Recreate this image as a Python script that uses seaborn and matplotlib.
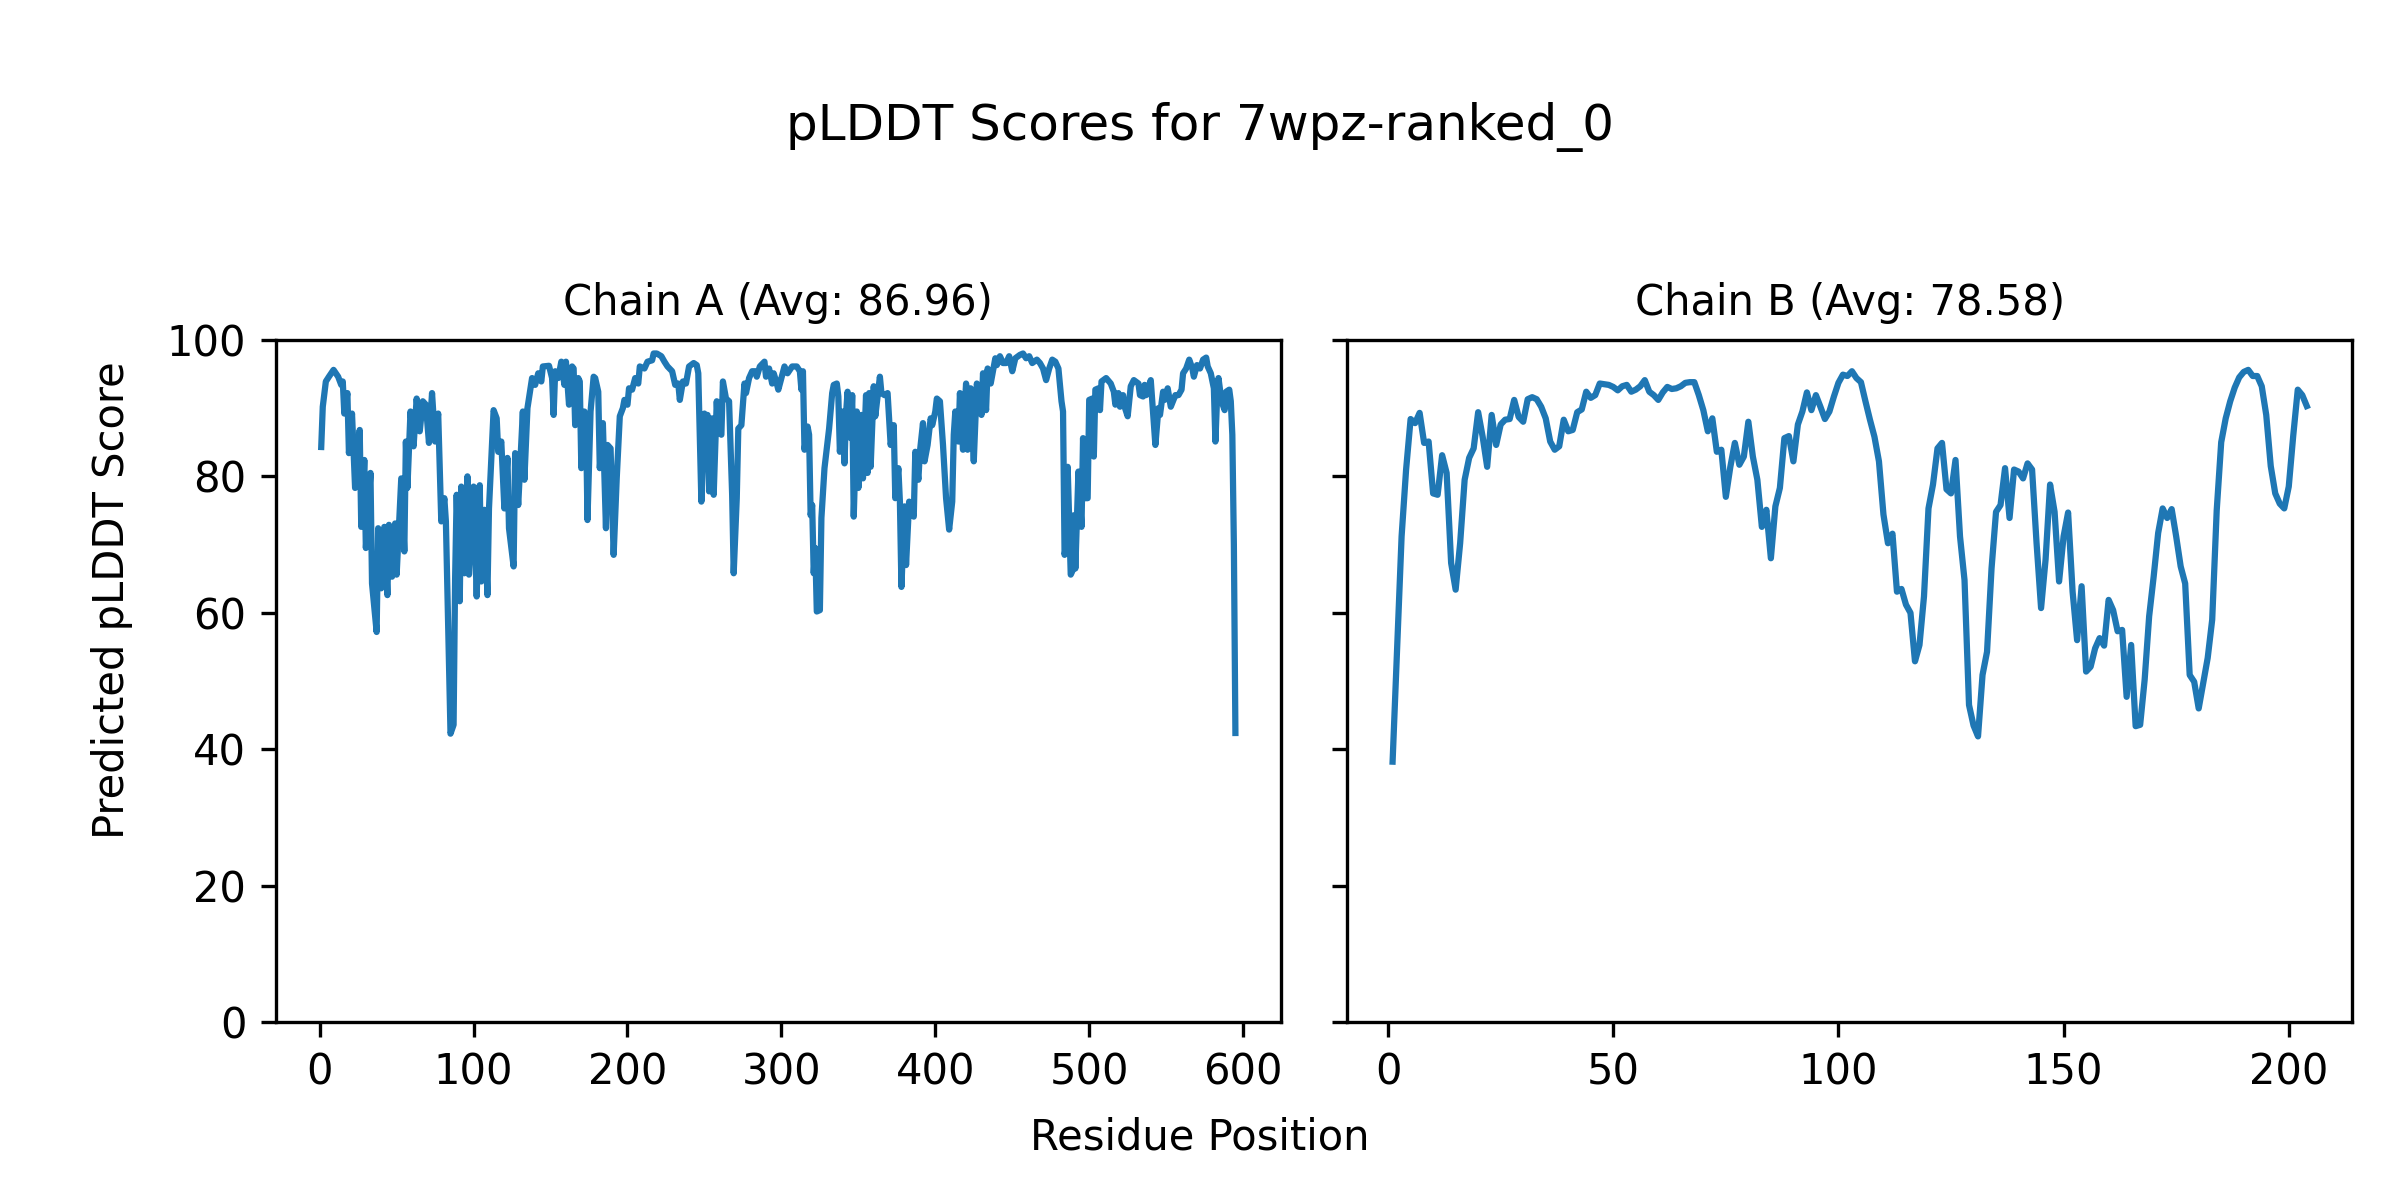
import matplotlib
matplotlib.use("Agg")
import matplotlib.pyplot as plt
import pandas as pd
import seaborn as sns

# pLDDT values (residue, score)
chain_a_pos = [1, 2, 4, 6, 9, 12, 14, 15, 16, 18, 19, 21, 23, 26, 27, 29, 30, 33, 34, 37,
               38, 40, 42, 44, 45, 47, 49, 50, 53, 55, 56, 57, 59, 61, 63, 65, 67, 69, 71, 73,
               75, 77, 79, 81, 82, 85, 87, 88, 89, 91, 92, 94, 96, 97, 100, 102, 104, 105, 107, 109,
               110, 113, 115, 116, 118, 120, 122, 123, 126, 127, 129, 132, 133, 135, 138, 140, 142, 144, 145, 149,
               151, 152, 153, 155, 157, 159, 160, 162, 164, 165, 166, 168, 169, 170, 172, 173, 174, 176, 178, 179,
               181, 182, 184, 186, 187, 189, 191, 193, 195, 197, 198, 200, 201, 203, 205, 207, 208, 211, 213, 216,
               217, 219, 222, 224, 226, 229, 231, 233, 234, 236, 238, 240, 243, 245, 246, 248, 250, 251, 252, 253,
               255, 256, 258, 259, 261, 262, 264, 266, 268, 269, 271, 272, 274, 276, 277, 279, 281, 283, 284, 286,
               289, 290, 292, 294, 295, 297, 298, 300, 302, 304, 307, 310, 312, 313, 314, 315, 317, 318, 319, 320,
               321, 322, 323, 325, 326, 328, 330, 331, 333, 334, 336, 337, 338, 340, 341, 342, 343, 345, 346, 347,
               349, 350, 352, 353, 355, 356, 357, 358, 360, 361, 364, 365, 367, 369, 371, 373, 374, 376, 377, 378,
               380, 381, 383, 384, 386, 387, 389, 390, 392, 393, 395, 397, 398, 400, 401, 403, 405, 407, 409, 411,
               412, 413, 415, 416, 418, 419, 420, 421, 423, 424, 425, 427, 429, 430, 431, 433, 434, 436, 438, 439,
               440, 442, 444, 446, 448, 450, 452, 455, 457, 459, 461, 463, 466, 468, 470, 472, 474, 476, 478, 480,
               482, 483, 484, 485, 486, 488, 489, 490, 491, 493, 495, 496, 497, 499, 500, 502, 503, 504, 506, 507,
               508, 511, 514, 516, 517, 519, 520, 522, 523, 525, 527, 529, 532, 533, 535, 536, 537, 540, 541, 543,
               545, 546, 548, 549, 551, 553, 556, 558, 560, 561, 563, 565, 567, 568, 570, 572, 574, 576, 577, 579,
               581, 582, 583, 584, 586, 588, 589, 591, 592, 593, 594, 595]
chain_a_score = [84.3, 90.2, 93.9, 94.6, 95.6, 94.6, 93.4, 93.9, 89.2, 92.2, 83.4, 89.2, 78.3, 86.8, 72.6, 82.4, 69.5, 80.5, 64.3, 57.2,
                 72.4, 63.6, 72.6, 62.6, 72.9, 65.3, 73.1, 65.6, 79.7, 69.0, 85.1, 78.3, 89.5, 84.4, 91.4, 86.6, 91.0, 90.5, 84.9, 92.2,
                 85.1, 89.2, 73.4, 76.8, 73.4, 42.3, 43.6, 65.1, 77.3, 61.7, 78.5, 65.8, 80.0, 65.6, 78.5, 62.4, 78.7, 64.6, 75.1, 62.6,
                 75.3, 89.7, 88.5, 83.6, 85.1, 75.3, 82.7, 72.4, 66.8, 83.4, 75.8, 89.5, 79.5, 90.0, 94.4, 93.4, 95.1, 93.9, 96.1, 96.2,
                 94.4, 89.0, 95.4, 94.4, 96.8, 93.4, 96.8, 90.5, 96.1, 95.8, 87.5, 94.4, 93.9, 81.2, 89.5, 88.8, 73.6, 89.5, 94.6, 94.4,
                 92.4, 81.2, 87.8, 72.4, 84.6, 84.1, 68.5, 79.7, 88.8, 90.0, 91.2, 90.5, 92.9, 92.7, 94.4, 93.6, 96.1, 95.8, 96.8, 97.0,
                 98.0, 98.0, 97.6, 96.8, 96.1, 95.4, 93.4, 93.6, 91.2, 93.9, 93.6, 96.1, 96.6, 96.3, 95.1, 76.3, 89.2, 81.2, 89.0, 77.8,
                 88.5, 77.3, 91.0, 86.6, 86.1, 93.9, 91.4, 91.0, 77.3, 65.8, 76.8, 87.0, 87.5, 93.6, 92.2, 94.4, 95.4, 95.4, 94.6, 96.1,
                 96.8, 94.6, 95.8, 93.6, 95.1, 93.6, 92.7, 94.4, 96.1, 95.1, 96.1, 96.1, 95.4, 92.7, 95.4, 83.9, 87.3, 86.1, 74.3, 75.8,
                 65.8, 69.5, 60.2, 60.4, 73.9, 81.2, 85.1, 87.0, 92.2, 93.4, 93.6, 91.7, 83.6, 89.5, 81.9, 89.2, 92.4, 85.6, 91.9, 74.1,
                 89.5, 78.3, 89.0, 79.7, 91.9, 80.5, 92.2, 81.4, 93.2, 88.8, 94.6, 92.2, 91.9, 92.2, 84.6, 87.5, 76.8, 81.2, 76.3, 63.8,
                 75.6, 67.0, 76.3, 75.8, 74.1, 83.6, 79.5, 83.6, 87.8, 82.2, 84.6, 88.5, 87.5, 89.5, 91.4, 91.0, 84.6, 76.8, 72.2, 76.3,
                 86.1, 89.5, 85.1, 92.2, 83.9, 89.7, 93.6, 83.9, 92.9, 86.6, 82.2, 93.6, 91.2, 89.0, 95.1, 89.7, 95.8, 93.6, 96.1, 97.3,
                 96.3, 97.6, 96.6, 96.6, 97.6, 95.4, 97.3, 97.8, 98.0, 97.3, 97.6, 96.6, 97.1, 96.6, 95.8, 94.1, 95.8, 97.1, 96.8, 95.8,
                 91.0, 89.5, 68.5, 70.0, 81.4, 65.6, 66.1, 74.3, 66.5, 80.7, 72.6, 85.6, 76.8, 76.8, 91.2, 91.4, 82.9, 92.7, 92.9, 89.7,
                 93.9, 94.4, 93.6, 92.4, 90.5, 92.2, 90.2, 91.9, 90.2, 88.8, 93.2, 94.1, 93.6, 91.9, 91.7, 93.4, 91.9, 94.1, 91.0, 84.6,
                 90.0, 89.0, 92.4, 91.2, 92.9, 90.2, 91.9, 91.9, 92.7, 95.1, 95.8, 97.1, 95.8, 94.6, 96.3, 95.8, 97.1, 97.4, 96.1, 95.1,
                 92.9, 85.1, 91.0, 94.4, 91.0, 89.7, 92.4, 92.7, 91.0, 86.1, 70.0, 42.4]

chain_b_pos = list(range(1, 205))
chain_b_score = [38.2, 54.6, 71.2, 81.0, 88.4, 87.8, 89.3, 84.9, 85.1, 77.5,
                 77.3, 83.1, 80.5, 67.3, 63.4, 70.2, 79.5, 82.7, 84.1, 89.4,
                 85.8, 81.4, 89.0, 84.6, 87.6, 88.3, 88.4, 91.2, 88.7, 88.0,
                 91.3, 91.6, 91.3, 90.2, 88.5, 85.1, 83.9, 84.4, 88.3, 86.6,
                 86.8, 89.4, 89.8, 92.4, 91.5, 91.9, 93.6, 93.5, 93.4, 93.1,
                 92.6, 93.2, 93.4, 92.4, 92.7, 93.2, 94.1, 92.4, 91.9, 91.2,
                 92.3, 93.1, 92.8, 92.9, 93.2, 93.7, 93.8, 93.8, 91.9, 89.7,
                 86.6, 88.5, 83.6, 83.9, 77.0, 81.4, 84.9, 81.7, 82.9, 88.0,
                 82.9, 79.5, 72.6, 75.1, 68.0, 75.6, 78.3, 85.6, 85.9, 82.2,
                 87.6, 89.5, 92.3, 89.7, 91.9, 90.2, 88.4, 89.5, 91.7, 93.7,
                 94.9, 94.7, 95.4, 94.4, 93.8, 91.0, 88.3, 85.8, 82.2, 74.4,
                 70.2, 71.6, 63.1, 63.5, 61.2, 60.0, 52.9, 55.3, 62.4, 75.3,
                 78.8, 84.1, 84.9, 78.1, 77.5, 82.4, 71.2, 64.8, 46.5, 43.5,
                 41.9, 50.9, 54.3, 66.5, 74.8, 75.8, 81.2, 73.9, 81.0, 80.7,
                 79.7, 81.9, 81.0, 70.2, 60.7, 67.8, 78.8, 74.8, 64.6, 71.2,
                 74.7, 63.1, 56.0, 63.9, 51.4, 52.1, 54.8, 56.3, 55.2, 61.9,
                 60.4, 57.3, 57.5, 47.7, 55.3, 43.4, 43.6, 50.2, 59.5, 65.3,
                 71.7, 75.3, 73.9, 75.2, 71.2, 66.8, 64.3, 50.9, 49.9, 46.0,
                 49.7, 53.4, 59.0, 75.0, 85.0, 88.5, 91.0, 93.0, 94.5, 95.3,
                 95.6, 94.7, 94.7, 93.2, 89.0, 81.5, 77.5, 76.0, 75.3, 78.5,
                 86.0, 92.7, 91.9, 90.3]

fig_title = "pLDDT Scores for 7wpz-ranked_0"
chain_titles = ["Chain A (Avg: 86.96)", "Chain B (Avg: 78.58)"]

df_a = pd.DataFrame({"pos": chain_a_pos, "score": chain_a_score})
df_b = pd.DataFrame({"pos": chain_b_pos, "score": chain_b_score})

fig, axes = plt.subplots(1, 2, figsize=(8, 4), dpi=300, sharey=True)

for ax, df, t in zip(axes, [df_a, df_b], chain_titles):
    sns.lineplot(data=df, x="pos", y="score", ax=ax, color="#1f77b4", linewidth=1.5)
    ax.set_title(t, fontsize=10)
    ax.set_xlabel("")
    ax.set_ylabel("")

axes[0].set_ylim(0, 100)

fig.suptitle(fig_title, fontsize=12, y=0.915)
fig.supxlabel("Residue Position", fontsize=10, y=0.052, va="center")
fig.supylabel("Predicted pLDDT Score", fontsize=10, x=0.0466, ha="center", va="center")
fig.subplots_adjust(left=0.1148, right=0.9802, bottom=0.148, top=0.7168, wspace=0.0654)

plt.savefig("out.png")
